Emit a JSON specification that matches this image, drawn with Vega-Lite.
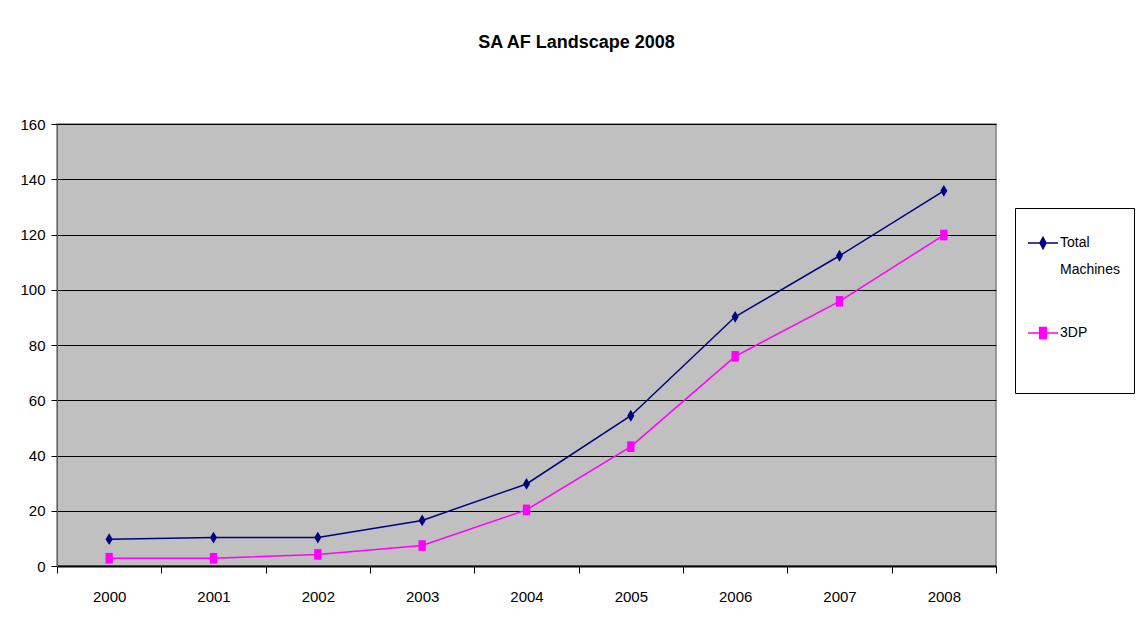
{
  "$schema": "https://vega.github.io/schema/vega-lite/v6.json",
  "width": 939,
  "height": 442,
  "autosize": {"type": "none"},
  "padding": {"left": 57, "top": 124, "right": 145, "bottom": 66},
  "background": "white",
  "title": {
    "text": "SA AF Landscape 2008",
    "font": "Liberation Sans, Arial, sans-serif",
    "fontSize": 18,
    "fontWeight": "bold",
    "color": "black",
    "anchor": "middle",
    "offset": 65,
    "dx": 50
  },
  "data": {
    "values": [
      {"year": "2000", "series": "Total Machines", "value": 9.7},
      {"year": "2001", "series": "Total Machines", "value": 10.3},
      {"year": "2002", "series": "Total Machines", "value": 10.3},
      {"year": "2003", "series": "Total Machines", "value": 16.5},
      {"year": "2004", "series": "Total Machines", "value": 29.7},
      {"year": "2005", "series": "Total Machines", "value": 54.4},
      {"year": "2006", "series": "Total Machines", "value": 90.2},
      {"year": "2007", "series": "Total Machines", "value": 112.3},
      {"year": "2008", "series": "Total Machines", "value": 135.8},
      {"year": "2000", "series": "3DP", "value": 2.8},
      {"year": "2001", "series": "3DP", "value": 2.8},
      {"year": "2002", "series": "3DP", "value": 4.2},
      {"year": "2003", "series": "3DP", "value": 7.4},
      {"year": "2004", "series": "3DP", "value": 20.3},
      {"year": "2005", "series": "3DP", "value": 43.2},
      {"year": "2006", "series": "3DP", "value": 75.9},
      {"year": "2007", "series": "3DP", "value": 95.8},
      {"year": "2008", "series": "3DP", "value": 119.8}
    ]
  },
  "encoding": {
    "x": {
      "field": "year",
      "type": "ordinal",
      "scale": {"type": "band", "paddingInner": 0, "paddingOuter": 0},
      "axis": {
        "title": null,
        "labelAngle": 0,
        "labelFont": "Liberation Sans, Arial, sans-serif",
        "labelFontSize": 15,
        "labelColor": "black",
        "labelPadding": 16,
        "tickBand": "extent",
        "tickSize": 7,
        "tickColor": "black",
        "tickWidth": 1,
        "domainColor": "black",
        "domainWidth": 2,
        "grid": false
      }
    },
    "y": {
      "field": "value",
      "type": "quantitative",
      "scale": {"domain": [0, 160], "nice": false},
      "axis": {
        "title": null,
        "values": [0, 20, 40, 60, 80, 100, 120, 140, 160],
        "labelFont": "Liberation Sans, Arial, sans-serif",
        "labelFontSize": 15,
        "labelColor": "black",
        "labelPadding": 6,
        "tickSize": 6,
        "tickColor": "black",
        "domainColor": "#606060",
        "grid": true,
        "gridColor": "black",
        "gridWidth": 1.2,
        "gridOpacity": 1
      }
    },
    "color": {
      "field": "series",
      "type": "nominal",
      "scale": {"domain": ["Total Machines", "3DP"], "range": ["#000080", "#FF00FF"]},
      "legend": {
        "title": " ",
        "titleOrient": "bottom",
        "titleFontSize": 8,
        "titlePadding": 4,
        "orient": "none",
        "legendX": 958,
        "legendY": 84,
        "direction": "vertical",
        "padding": 14,
        "strokeColor": "black",
        "fillColor": "white",
        "labelFont": "Liberation Sans, Arial, sans-serif",
        "labelFontSize": 14,
        "labelColor": "black",
        "labelOffset": -4,
        "labelExpr": "datum.label == 'Total Machines' ? ['Total', 'Machines'] : ['3DP', ' ']",
        "rowPadding": 35,
        "symbolSize": 1600,
        "symbolOffset": -7,
        "symbolStrokeWidth": 1.5,
        "encode": {
          "symbols": {
            "update": {
              "shape": {"signal": "datum.value == 'Total Machines' ? 'M-0.75,0H0.75M0,-0.28L0.15,0L0,0.28L-0.15,0Z' : 'M-0.75,0H0.75M-0.17,-0.28H0.17V0.28H-0.17Z'"},
              "fill": {"signal": "datum.value == 'Total Machines' ? '#000080' : '#FF00FF'"},
              "stroke": {"signal": "datum.value == 'Total Machines' ? '#000080' : '#FF00FF'"},
              "strokeWidth": {"value": 1.5},
              "opacity": {"value": 1}
            }
          },
          "labels": {
            "update": {
              "lineHeight": {"value": 27}
            }
          }
        }
      }
    }
  },
  "layer": [
    {
      "mark": {"type": "line", "strokeWidth": 1.5}
    },
    {
      "mark": {"type": "point", "filled": true, "size": 140, "opacity": 1},
      "encoding": {
        "shape": {
          "condition": {"test": "datum.series == '3DP'", "value": "M-0.62,-0.9H0.62V0.9H-0.62Z"},
          "value": "M0,-1L0.6,0L0,1L-0.6,0Z"
        }
      }
    }
  ],
  "config": {
    "view": {"fill": "#C0C0C0", "stroke": "#808080", "strokeWidth": 1.5}
  }
}
